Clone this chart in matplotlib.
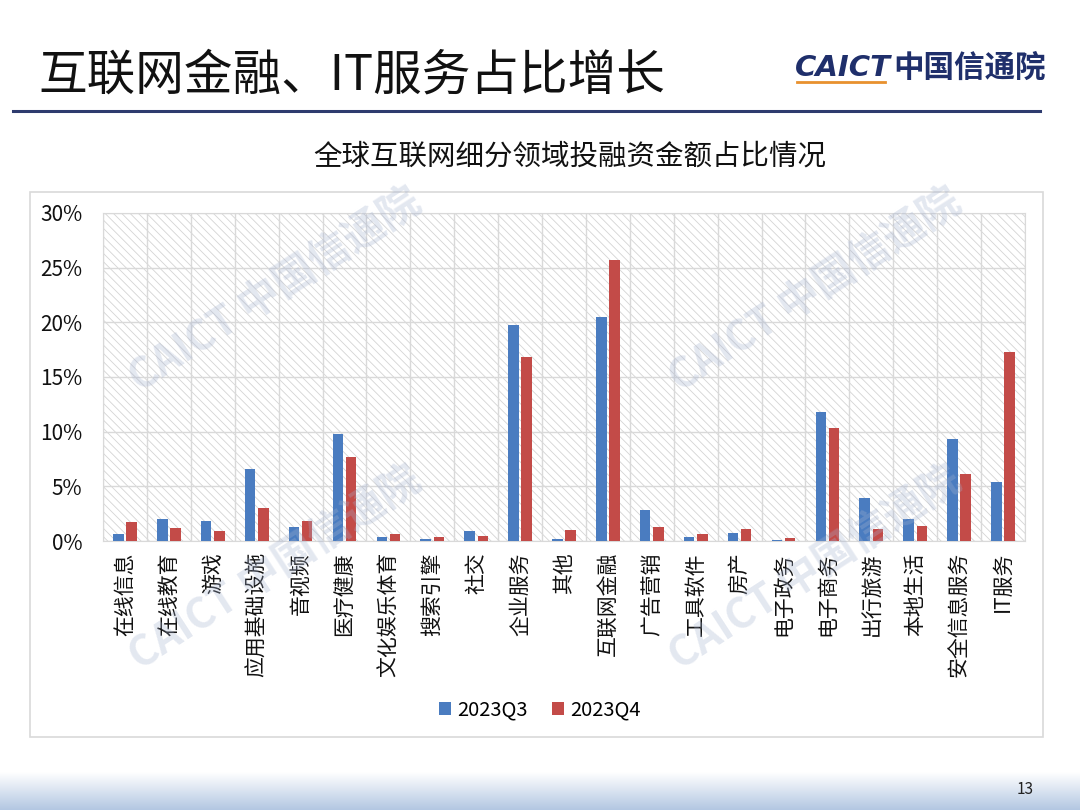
import numpy as np
import matplotlib
matplotlib.use('Agg')
import matplotlib.pyplot as plt
from matplotlib.patches import Rectangle
from matplotlib.ticker import PercentFormatter

plt.rcParams['font.family'] = ['Noto Sans CJK SC', 'DejaVu Sans']
plt.rcParams['hatch.linewidth'] = 0.6

# Dados (% do montante)
categorias = ['在线信息', '在线教育', '游戏', '应用基础设施', '音视频', '医疗健康',
              '文化娱乐体育', '搜索引擎', '社交', '企业服务', '其他', '互联网金融',
              '广告营销', '工具软件', '房产', '电子政务', '电子商务', '出行旅游',
              '本地生活', '安全信息服务', 'IT服务']
q3 = [0.6, 2.0, 1.8, 6.6, 1.3, 9.8, 0.4, 0.2, 0.9, 19.8, 0.2, 20.5,
      2.8, 0.35, 0.7, 0.1, 11.8, 3.9, 2.0, 9.3, 5.4]
q4 = [1.7, 1.2, 0.9, 3.0, 1.8, 7.7, 0.6, 0.4, 0.5, 16.8, 1.0, 25.7,
      1.3, 0.6, 1.1, 0.3, 10.3, 1.1, 1.4, 6.1, 17.3]
series_nomes = ['2023Q3', '2023Q4']

AZUL = '#4A7CC0'
VERMELHO = '#C34B48'
NAVY = '#1F2F6B'

W, H = 1080, 810
fig = plt.figure(figsize=(W / 100, H / 100), dpi=100)

# faixa inferior em degradê
grad = np.linspace(0, 1, 64).reshape(-1, 1)
ax_band = fig.add_axes([0, 0, 1, 38 / H])
ax_band.imshow(grad, aspect='auto', cmap=matplotlib.colors.LinearSegmentedColormap.from_list(
    'b', ['#B3C7E2', '#FFFFFF']), origin='lower')
ax_band.axis('off')
fig.text(1025 / W, 1 - 790 / H, '13', fontsize=11, ha='center', va='center', color='#222222')

# título do slide
fig.text(38 / W, 1 - 76 / H, '互联网金融、IT服务占比增长', fontsize=35, ha='left', va='center', color='#111111')
fig.add_artist(plt.Line2D([13 / W, 1040 / W], [1 - 111 / H, 1 - 111 / H], color='#2E3B6E', lw=2.2))

# logo
fig.text(795 / W, 1 - 68 / H, 'CAICT', fontsize=21, fontweight='bold', style='italic',
         family=['DejaVu Sans'], color=NAVY, ha='left', va='center')
fig.add_artist(plt.Line2D([797 / W, 885 / W], [1 - 82 / H, 1 - 82 / H], color='#E8912E', lw=2))
fig.text(893 / W, 1 - 68 / H, '中国信通院', fontsize=22, fontweight='bold', color=NAVY,
         ha='left', va='center')

# moldura do gráfico
fig.add_artist(Rectangle((30 / W, 1 - 737 / H), 1013 / W, 545 / H, transform=fig.transFigure,
                         fill=False, edgecolor='#D9D9D9', lw=1.2))
fig.text(570 / W, 1 - 157 / H, '全球互联网细分领域投融资金额占比情况', fontsize=20.5,
         ha='center', va='center', color='#111111')

ax = fig.add_axes([103 / W, 1 - 541 / H, 922 / W, 328 / H])
x = np.arange(len(categorias))
largura = 0.24
ax.add_patch(Rectangle((0, 0), 1, 1, transform=ax.transAxes, facecolor='white',
                       edgecolor='#D4D4D4', hatch='\\\\\\\\', lw=0, zorder=0))
ax.bar(x - 0.15, q3, largura, color=AZUL, label=series_nomes[0], zorder=3)
ax.bar(x + 0.15, q4, largura, color=VERMELHO, label=series_nomes[1], zorder=3)

ax.set_xlim(-0.5, len(categorias) - 0.5)
ax.set_ylim(0, 30)
ax.set_yticks(np.arange(0, 31, 5))
ax.yaxis.set_major_formatter(PercentFormatter(decimals=0))
ax.set_xticks(x)
ax.set_xticklabels(categorias, rotation=90, fontsize=15, color='#111111')
ax.set_xticks(np.arange(-0.5, len(categorias), 1), minor=True)
ax.tick_params(axis='y', labelsize=15, length=0, pad=15, colors='#111111')
ax.tick_params(axis='x', which='both', length=0, pad=8)
ax.grid(axis='y', color='#D9D9D9', lw=1, zorder=1)
ax.grid(axis='x', which='minor', color='#D9D9D9', lw=1, zorder=1)
ax.set_axisbelow(True)
for s in ax.spines.values():
    s.set_color('#D9D9D9')

ax.legend(loc='center', bbox_to_anchor=(540 / W, 1 - 710 / H), bbox_transform=fig.transFigure,
          ncol=2, frameon=False, fontsize=14.5, handlelength=0.6, handleheight=0.6,
          handletextpad=0.3, columnspacing=1.2)

# marcas d'água
for cx, cy in [(275, 290), (815, 290), (275, 568), (815, 568)]:
    fig.text(cx / W, 1 - cy / H, 'CAICT 中国信通院', fontsize=30, fontweight='bold',
             color='#A4B2CF', alpha=0.3, rotation=33, ha='center', va='center', zorder=10)

fig.savefig('out.png', dpi=100)
